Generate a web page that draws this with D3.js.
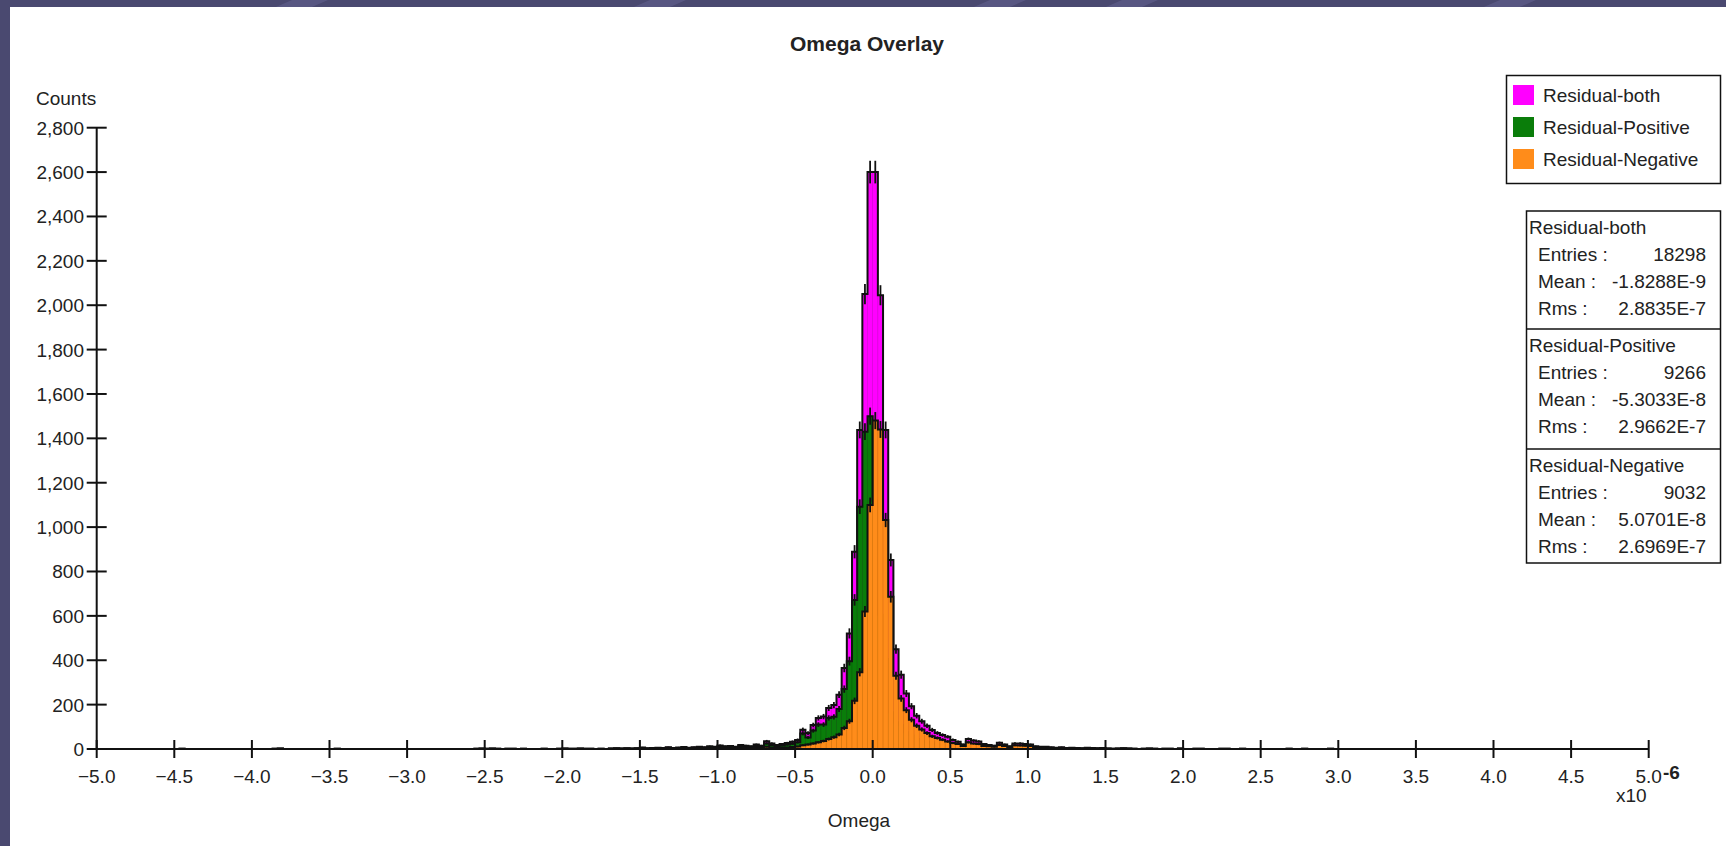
<!DOCTYPE html>
<html>
<head>
<meta charset="utf-8">
<script src="https://cdn.jsdelivr.net/npm/d3@7.9.0/dist/d3.min.js"></script>
<style>
  html, body { margin: 0; padding: 0; background: #4a4970; overflow: hidden; }
  svg { display: block; }
  text { font-family: "Liberation Sans", Arial, sans-serif; fill: #222; }
</style>
</head>
<body>
<svg id="chart" width="1726" height="846"></svg>
<script>
// bins are [k*binWidth, (k+1)*binWidth] in units of 1e-6
const binWidth = 1 / 30;
const coreFirstBin = -45;

// k = -45 .. 44
const bothCore = [
  7, 3, 5, 6, 4, 8, 5, 7, 9, 6, 8, 10, 8, 12, 10, 16, 12, 14, 10, 18,
  15, 12, 20, 15, 35, 25, 18, 22, 27, 33, 41, 87, 72, 108, 140, 146, 185, 198, 245, 365,
  521, 889, 1438, 2050, 2600,
  2600, 2045, 1438, 852, 450, 335, 250, 193, 150, 125, 105, 86, 72, 63, 55, 41, 33, 20, 45, 38,
  34, 22, 18, 15, 28, 20, 12, 25, 25, 22, 20, 12, 10, 10, 8, 6, 8, 5, 6, 4,
  3, 6, 4, 3, 5
];
const positiveCore = [
  5, 2, 4, 4, 3, 6, 4, 5, 6, 4, 6, 7, 6, 8, 7, 11, 8, 10, 7, 12,
  10, 8, 14, 10, 25, 18, 12, 16, 20, 24, 30, 70, 52, 83, 110, 110, 140, 145, 180, 270,
  396, 672, 1092, 1430, 1500,
  1120, 605, 406, 166, 120, 107, 75, 61, 45, 37, 33, 29, 22, 21, 21, 14, 10, 6, 15, 13,
  12, 8, 6, 5, 10, 7, 4, 8, 9, 7, 7, 4, 3, 4, 3, 2, 3, 2, 2, 1,
  1, 2, 1, 1, 2
];
const negativeCore = [
  2, 1, 1, 2, 1, 2, 1, 2, 3, 2, 2, 3, 2, 4, 3, 5, 4, 4, 3, 6,
  5, 4, 6, 5, 10, 7, 6, 6, 7, 9, 11, 17, 20, 25, 30, 36, 45, 53, 65, 95,
  125, 217, 346, 620, 1100,
  1480, 1440, 1032, 686, 330, 228, 175, 132, 105, 88, 72, 57, 50, 42, 34, 27, 23, 14, 30, 25,
  22, 14, 12, 10, 18, 13, 8, 17, 16, 15, 13, 8, 7, 6, 5, 4, 5, 3, 4, 3,
  2, 4, 3, 2, 3
];

// sparse tails outside the core: [bin k, count]
const positiveTail = [
  [-134, 1], [-116, 1], [-115, 2], [-104, 1], [-77, 1], [-76, 2], [-75, 1], [-74, 2], [-73, 1],
  [-71, 1], [-70, 1], [-68, 1], [-64, 1], [-61, 1], [-60, 2], [-59, 1], [-58, 1], [-57, 2],
  [-56, 1], [-55, 1], [-53, 1], [-51, 2], [-50, 3], [-49, 2], [-48, 3], [-47, 2], [-46, 3]
];
const negativeTail = [
  [45, 2], [46, 1], [47, 2], [48, 3], [49, 2], [50, 1], [52, 1], [53, 2], [54, 1], [56, 1],
  [57, 1], [59, 2], [62, 1], [63, 1], [67, 1], [68, 1], [71, 1], [80, 1], [83, 1], [88, 1]
];
const bothTail = [
  [-134, 1], [-116, 1], [-115, 2], [-104, 1], [-77, 1], [-76, 2], [-75, 1], [-74, 2], [-73, 1],
  [-71, 1], [-70, 1], [-68, 1], [-64, 1], [-61, 1], [-60, 2], [-59, 1], [-58, 1], [-57, 2],
  [-56, 1], [-55, 1], [-53, 1], [-51, 2], [-50, 3], [-49, 2], [-48, 3], [-47, 2], [-46, 3],
  [45, 2], [46, 1], [47, 2], [48, 3], [49, 2], [50, 1], [52, 1], [53, 2], [54, 1], [56, 1],
  [57, 1], [59, 2], [62, 1], [63, 1], [67, 1], [68, 1], [71, 1], [80, 1], [83, 1], [88, 1]
];

const seriesNames = ["Residual-both", "Residual-Positive", "Residual-Negative"];
const seriesColors = ["#ff00ff", "#0a7d0a", "#ff8c1a"];
const seriesEdge = ["#d600d6", "#076807", "#e07810"];
const statEntries = ["18298", "9266", "9032"];
const statMeans = ["-1.8288E-9", "-5.3033E-8", "5.0701E-8"];
const statRms = ["2.8835E-7", "2.9662E-7", "2.6969E-7"];

const xTicks = d3.range(-5, 5.001, 0.5);
const yTicks = d3.range(0, 2801, 200);

const svg = d3.select("#chart");

// slide background stripes
const stripes = [292, 650, 990, 1122, 1500];
svg.append("g").selectAll("path")
  .data(stripes)
  .enter()
  .append("path")
  .attr("d", (d) => `M${d},0 L${d + 36},0 L${d - 10},20 L${d - 46},20 Z`)
  .attr("fill", "#6a699a")
  .attr("opacity", 0.45);

svg.append("rect")
  .attr("x", 10).attr("y", 7)
  .attr("width", 1716).attr("height", 839)
  .attr("fill", "#ffffff");

const x = d3.scaleLinear().domain([-5, 5]).range([96.7, 1648.7]);
const y = d3.scaleLinear().domain([0, 2800]).range([749, 127.7]);

function toBins(core, tail) {
  const m = new Map();
  core.forEach((c, i) => m.set(coreFirstBin + i, c));
  tail.forEach(([k, c]) => m.set(k, c));
  const ks = Array.from(m.keys()).sort((a, b) => a - b);
  const lo = ks[0], hi = ks[ks.length - 1];
  return d3.range(lo, hi + 1).map((k) => ({ k, count: m.get(k) || 0 }));
}

const allSeries = [
  toBins(bothCore, bothTail),
  toBins(positiveCore, positiveTail),
  toBins(negativeCore, negativeTail)
];

const plot = svg.append("g");

allSeries.forEach((bins, si) => {
  const g = plot.append("g");
  const filled = bins.filter((b) => b.count > 0);

  g.selectAll("rect")
    .data(filled)
    .enter()
    .append("rect")
    .attr("x", (d) => x(d.k * binWidth))
    .attr("width", (d) => x((d.k + 1) * binWidth) - x(d.k * binWidth))
    .attr("y", (d) => y(d.count))
    .attr("height", (d) => y(0) - y(d.count))
    .attr("fill", seriesColors[si])
    .attr("stroke", seriesEdge[si])
    .attr("stroke-width", 0.6);

  let p = `M${x(bins[0].k * binWidth)},${y(0)}`;
  bins.forEach((b) => {
    p += ` L${x(b.k * binWidth)},${y(b.count)} L${x((b.k + 1) * binWidth)},${y(b.count)}`;
  });
  p += ` L${x((bins[bins.length - 1].k + 1) * binWidth)},${y(0)}`;
  g.append("path")
    .attr("d", p)
    .attr("fill", "none")
    .attr("stroke", "#111")
    .attr("stroke-width", 2)
    .attr("stroke-linejoin", "miter");

  g.selectAll("line.err")
    .data(filled)
    .enter()
    .append("line")
    .attr("class", "err")
    .attr("x1", (d) => x((d.k + 0.5) * binWidth))
    .attr("x2", (d) => x((d.k + 0.5) * binWidth))
    .attr("y1", (d) => y(d.count + Math.sqrt(d.count)))
    .attr("y2", (d) => y(Math.max(0, d.count - Math.sqrt(d.count))))
    .attr("stroke", "#111")
    .attr("stroke-width", 1.8);
});

// axes
const axes = svg.append("g").attr("stroke", "#111").attr("stroke-width", 2);
axes.append("line").attr("x1", x(-5)).attr("x2", x(5)).attr("y1", y(0)).attr("y2", y(0));
axes.append("line").attr("x1", x(-5)).attr("x2", x(-5)).attr("y1", y(0)).attr("y2", y(2800));
axes.selectAll("line.xt")
  .data(xTicks)
  .enter()
  .append("line")
  .attr("class", "xt")
  .attr("x1", (d) => x(d)).attr("x2", (d) => x(d))
  .attr("y1", y(0) - 9).attr("y2", y(0) + 9);
axes.selectAll("line.yt")
  .data(yTicks)
  .enter()
  .append("line")
  .attr("class", "yt")
  .attr("x1", x(-5) - 10).attr("x2", x(-5) + 10)
  .attr("y1", (d) => y(d)).attr("y2", (d) => y(d));

svg.append("g").selectAll("text")
  .data(xTicks)
  .enter()
  .append("text")
  .attr("x", (d) => x(d))
  .attr("y", 783)
  .attr("text-anchor", "middle")
  .attr("font-size", 19)
  .text((d) => d3.format(".1f")(d));

svg.append("g").selectAll("text")
  .data(yTicks)
  .enter()
  .append("text")
  .attr("x", 84)
  .attr("y", (d) => y(d) + 7)
  .attr("text-anchor", "end")
  .attr("font-size", 19)
  .text((d) => d3.format(",")(d));

// exponent label, nudged so it sits just clear of the last tick label
svg.append("text").attr("x", 1616).attr("y", 802).attr("font-size", 19).text("x10");
svg.append("text").attr("x", 1663).attr("y", 779).attr("font-size", 19)
  .attr("font-weight", "bold").text("-6");

svg.append("text").attr("x", 36).attr("y", 105).attr("font-size", 19).text("Counts");
svg.append("text").attr("x", 859).attr("y", 827).attr("font-size", 19)
  .attr("text-anchor", "middle").text("Omega");
svg.append("text").attr("x", 867).attr("y", 51).attr("font-size", 21)
  .attr("font-weight", "bold").attr("text-anchor", "middle").text("Omega Overlay");

// legend
const legend = svg.append("g");
legend.append("rect")
  .attr("x", 1506.5).attr("y", 75.5).attr("width", 214).attr("height", 108)
  .attr("fill", "#fff").attr("stroke", "#111").attr("stroke-width", 1.5);
const li = legend.selectAll("g.item")
  .data(seriesNames)
  .enter()
  .append("g")
  .attr("class", "item")
  .attr("transform", (_, i) => `translate(1513, ${85 + i * 32})`);
li.append("rect")
  .attr("width", 21).attr("height", 20)
  .attr("fill", (_, i) => seriesColors[i]);
li.append("text")
  .attr("x", 30).attr("y", 17)
  .attr("font-size", 19)
  .text((d) => d);

// stats box
const stats = svg.append("g");
const boxTop = 211, boxBottom = 563, boxL = 1526.5, boxR = 1720.5;
const sectionTops = [boxTop, 329, 449];
stats.append("rect")
  .attr("x", boxL).attr("y", boxTop).attr("width", boxR - boxL).attr("height", boxBottom - boxTop)
  .attr("fill", "#fff").attr("stroke", "#111").attr("stroke-width", 1.5);
sectionTops.slice(1).forEach((t) => {
  stats.append("line").attr("x1", boxL).attr("x2", boxR).attr("y1", t).attr("y2", t)
    .attr("stroke", "#111").attr("stroke-width", 1.5);
});
seriesNames.forEach((name, i) => {
  const t = sectionTops[i];
  const rows = [
    ["Entries :", statEntries[i]],
    ["Mean :", statMeans[i]],
    ["Rms :", statRms[i]]
  ];
  stats.append("text").attr("x", 1529).attr("y", t + 23).attr("font-size", 19).text(name);
  rows.forEach(([lab, val], r) => {
    stats.append("text").attr("x", 1538).attr("y", t + 50 + r * 27).attr("font-size", 19).text(lab);
    stats.append("text").attr("x", 1706).attr("y", t + 50 + r * 27).attr("font-size", 19)
      .attr("text-anchor", "end").text(val);
  });
});
</script>
</body>
</html>
